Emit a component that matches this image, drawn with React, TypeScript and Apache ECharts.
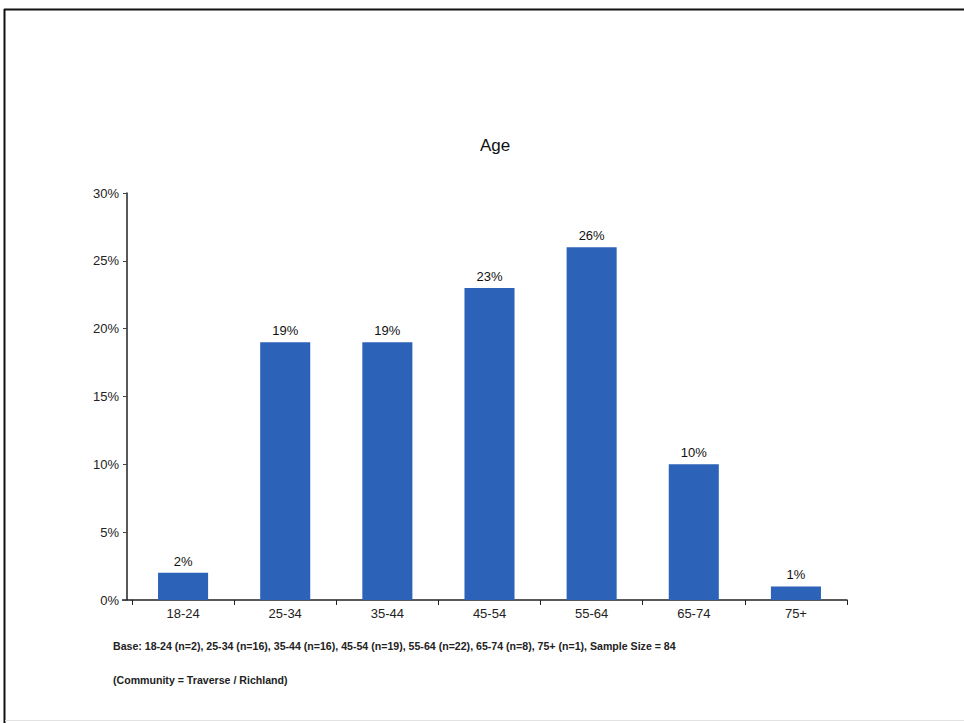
import React, { useEffect, useRef } from "react";
import * as echarts from "echarts";

const categories = ["18-24", "25-34", "35-44", "45-54", "55-64", "65-74", "75+"];
const percentages = [2, 19, 19, 23, 26, 10, 1];
const yTicks = { min: 0, max: 30, interval: 5 };
const chartTitle = "Age";
const footnoteBase =
  "Base: 18-24 (n=2), 25-34 (n=16), 35-44 (n=16), 45-54 (n=19), 55-64 (n=22), 65-74 (n=8), 75+ (n=1), Sample Size = 84";
const footnoteCommunity = "(Community = Traverse / Richland)";

export default function App() {
  const ref = useRef<HTMLDivElement>(null);
  useEffect(() => {
    if (!ref.current) return;
    const chart = echarts.init(ref.current, null, { renderer: "svg" });
    chart.setOption({
      animation: false,
      backgroundColor: "#ffffff",
      title: {
        text: chartTitle,
        left: 490,
        textAlign: "center",
        top: 132,
        textStyle: { fontFamily: "Arial, Liberation Sans", fontSize: 17, fontWeight: "normal", color: "#111" },
      },
      grid: { left: 132, right: 117, top: 193, bottom: 123, containLabel: false },
      xAxis: {
        type: "category",
        data: categories,
        axisLine: { lineStyle: { color: "#222", width: 1.5 } },
        axisTick: { show: true, length: 5, lineStyle: { color: "#222" } },
        axisLabel: { fontFamily: "Arial, Liberation Sans", fontSize: 13, color: "#222", margin: 7 },
      },
      yAxis: {
        type: "value",
        min: yTicks.min,
        max: yTicks.max,
        interval: yTicks.interval,
        offset: 5,
        splitLine: { show: false },
        axisLine: { show: true, lineStyle: { color: "#222", width: 1.5 } },
        axisTick: { show: true, length: 4, lineStyle: { color: "#444" } },
        axisLabel: {
          formatter: "{value}%",
          fontFamily: "Arial, Liberation Sans",
          fontSize: 13,
          color: "#222",
          margin: 8,
        },
      },
      series: [
        {
          type: "bar",
          data: percentages,
          barWidth: "49%",
          itemStyle: { color: "#2C62B8" },
          label: {
            show: true,
            position: "top",
            distance: 5,
            formatter: "{c}%",
            fontFamily: "Arial, Liberation Sans",
            fontSize: 13,
            color: "#111",
          },
        },
      ],
      graphic: [
        {
          type: "line",
          shape: { x1: 4, y1: 9.5, x2: 964, y2: 9.5 },
          style: { stroke: "#111", lineWidth: 2 },
          silent: true,
        },
        {
          type: "line",
          shape: { x1: 4.5, y1: 9, x2: 4.5, y2: 723 },
          style: { stroke: "#111", lineWidth: 2 },
          silent: true,
        },
        {
          type: "line",
          shape: { x1: 5, y1: 720.5, x2: 964, y2: 720.5 },
          style: { stroke: "#e2e2e2", lineWidth: 1 },
          silent: true,
        },
        {
          type: "line",
          shape: { x1: 122, y1: 600, x2: 132, y2: 600 },
          style: { stroke: "#222", lineWidth: 1.5 },
          silent: true,
        },
        {
          type: "text",
          x: 113,
          y: 640,
          style: {
            text: footnoteBase,
            fontFamily: "Arial, Liberation Sans",
            fontSize: 10.6,
            fontWeight: "bold",
            fill: "#222",
          },
        },
        {
          type: "text",
          x: 113,
          y: 674,
          style: {
            text: footnoteCommunity,
            fontFamily: "Arial, Liberation Sans",
            fontSize: 10.6,
            fontWeight: "bold",
            fill: "#222",
          },
        },
      ],
    });
    return () => chart.dispose();
  }, []);
  return (
    <div
      ref={ref}
      style={{ position: "fixed", left: 0, top: 0, width: 964, height: 723 }}
    />
  );
}
